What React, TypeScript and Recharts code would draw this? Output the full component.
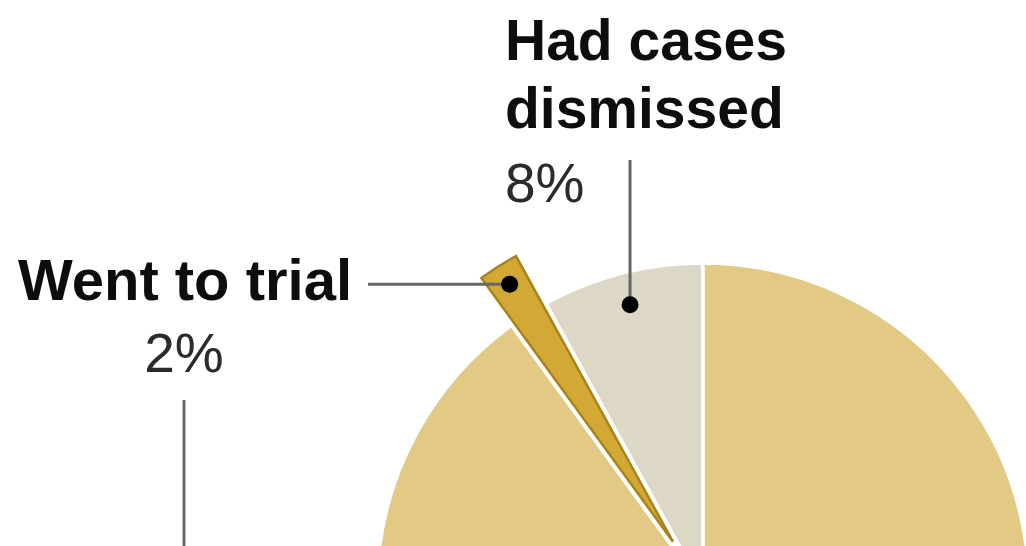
import React from 'react';
import { PieChart, Pie, Cell } from 'recharts';

// outcome shares, percent of cases
const categories = ['Had cases dismissed', 'Went to trial', 'Pleaded guilty'];
const shares = [8, 2, 90];
const titleLines = [['Had cases', 'dismissed'], ['Went to trial'], ['Pleaded guilty']];

const colors = ['#DCD8C5', '#D3A936', '#E2CA84'];
const EXPLODED = 1;
const RADIUS = 326;
const CENTER = { x: 703, y: 589 };
const EXPLODE_BY = 56;
const RAD = Math.PI / 180;

const data = categories.map((name, i) => ({ name, value: shares[i] }));

// where the start / end angles land for the exploded slice
const total = shares.reduce((a, b) => a + b, 0);
const before = shares.slice(0, EXPLODED).reduce((a, b) => a + b, 0);
const explodedMid = 90 + ((before + shares[EXPLODED] / 2) / total) * 360;
const offsetCenter = {
  x: CENTER.x + EXPLODE_BY * Math.cos(explodedMid * RAD),
  y: CENTER.y - EXPLODE_BY * Math.sin(explodedMid * RAD),
};

const font = "'Liberation Sans', Arial, Helvetica, sans-serif";
const leader = '#666';

const makeLabel = (show: number[]) => (props: any) => {
  const { cx, cy, midAngle, outerRadius, index } = props;
  if (!show.includes(index)) return null;
  const r = outerRadius * (index === 0 ? 0.9 : 0.935);
  const dx = cx + r * Math.cos(-midAngle * RAD);
  const dy = cy + r * Math.sin(-midAngle * RAD);
  const pct = `${shares[index]}%`;

  if (index === 0) {
    return (
      <g key="lbl-0">
        <line x1={dx} y1={160} x2={dx} y2={dy} stroke={leader} strokeWidth={3} />
        <circle cx={dx} cy={dy} r={8.5} fill="#000" />
        {titleLines[0].map((t, i) => (
          <text key={t} x={505} y={60 + i * 68} fontFamily={font} fontWeight={700} fontSize={57} fill="#0d0d0d">
            {t}
          </text>
        ))}
        <text x={505} y={202} fontFamily={font} fontSize={55} fill="#2b2b2b">
          {pct}
        </text>
      </g>
    );
  }

  return (
    <g key="lbl-1">
      <line x1={368} y1={dy} x2={dx} y2={dy} stroke={leader} strokeWidth={3} />
      <circle cx={dx} cy={dy} r={8.5} fill="#000" />
      <text x={18} y={300} fontFamily={font} fontWeight={700} fontSize={58} fill="#0d0d0d">
        {titleLines[1][0]}
      </text>
      <text x={184} y={372} textAnchor="middle" fontFamily={font} fontSize={55} fill="#2b2b2b">
        {pct}
      </text>
      {/* leader for the label below the crop */}
      <line x1={184} y1={400} x2={184} y2={560} stroke={leader} strokeWidth={3} />
    </g>
  );
};

export default function App() {
  return (
    <div style={{ position: 'absolute', left: 0, top: 0, width: 1026, height: 546, background: '#fff' }}>
      <PieChart width={1026} height={546} margin={{ top: 0, right: 0, bottom: 0, left: 0 }}>
        <Pie
          data={data}
          dataKey="value"
          cx={CENTER.x}
          cy={CENTER.y}
          outerRadius={RADIUS}
          startAngle={90}
          endAngle={450}
          stroke="#fff"
          strokeWidth={3.5}
          label={makeLabel([0])}
          labelLine={false}
          isAnimationActive={false}
        >
          {data.map((d, i) => (
            <Cell key={d.name} fill={i === EXPLODED ? 'transparent' : colors[i]} stroke={i === EXPLODED ? 'none' : '#fff'} />
          ))}
        </Pie>
        <Pie
          data={data}
          dataKey="value"
          cx={offsetCenter.x}
          cy={offsetCenter.y}
          outerRadius={RADIUS}
          startAngle={90}
          endAngle={450}
          label={makeLabel([EXPLODED])}
          labelLine={false}
          isAnimationActive={false}
        >
          {data.map((d, i) => (
            <Cell
              key={d.name}
              fill={i === EXPLODED ? colors[i] : 'transparent'}
              stroke={i === EXPLODED ? '#A8841C' : 'none'}
              strokeWidth={2.5}
            />
          ))}
        </Pie>
      </PieChart>
    </div>
  );
}
